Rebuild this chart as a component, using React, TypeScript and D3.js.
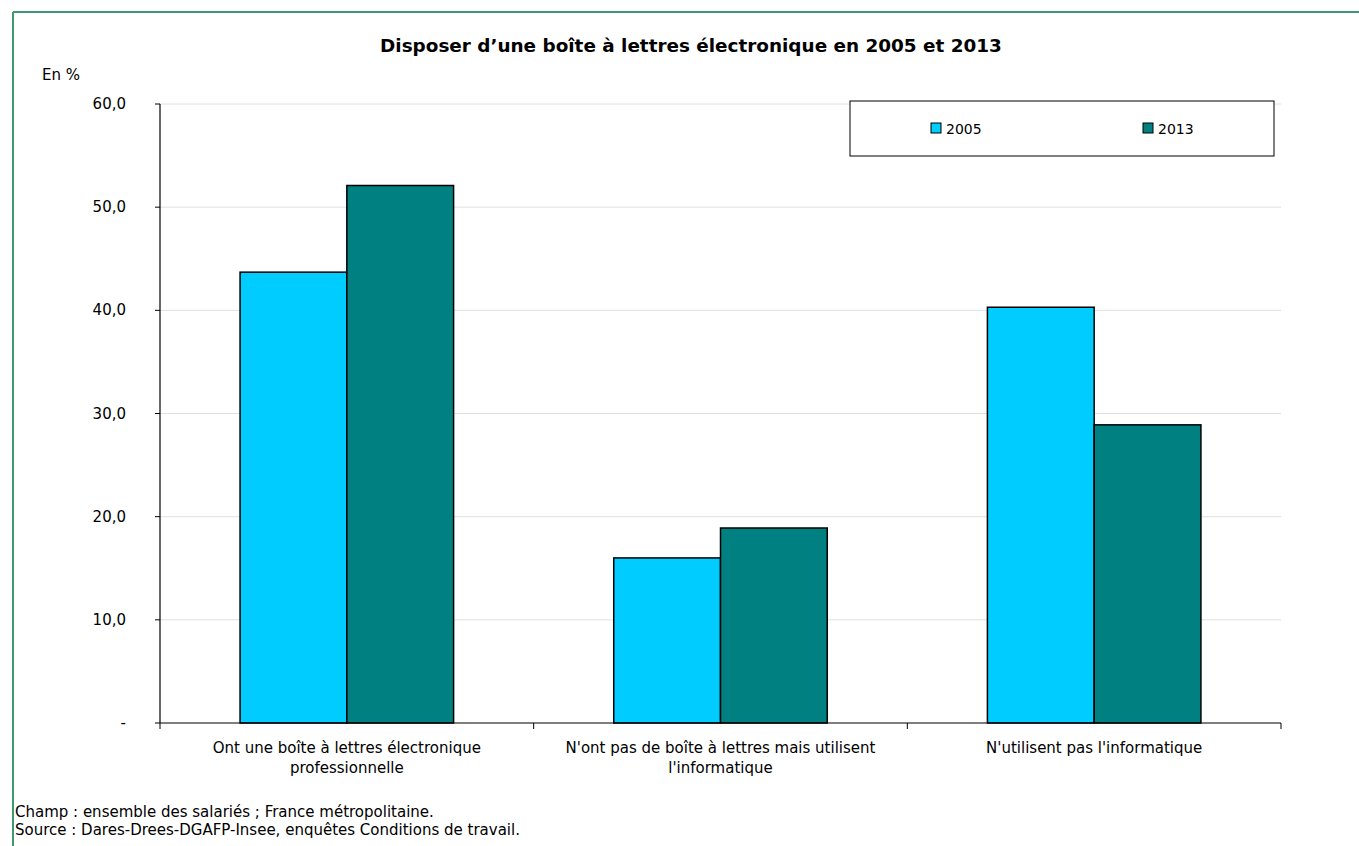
import React from "react";
import * as d3 from "d3";

const categories: string[][] = [
  ["Ont une boîte à lettres électronique", "professionnelle"],
  ["N'ont pas de boîte à lettres mais utilisent", "l'informatique"],
  ["N'utilisent pas l'informatique"],
];
const seriesNames = ["2005", "2013"];
const values2005 = [43.7, 16.0, 40.3];
const values2013 = [52.1, 18.9, 28.9];
const yTicks = [0, 10, 20, 30, 40, 50, 60];
const colors = ["#00CCFF", "#008080"];

const FONT = "Verdana, 'DejaVu Sans', sans-serif";

export default function App() {
  const W = 1359, H = 846;
  const left = 160, right = 1281, top = 104, bottom = 723;
  const x = d3.scaleBand<number>().domain([0, 1, 2]).range([left, right]).paddingInner(0).paddingOuter(0);
  const y = d3.scaleLinear().domain([0, 60]).range([bottom, top]);
  const bw = x.bandwidth();
  const gap = 1.5;
  const barW = bw / (2 + gap);
  const series = [values2005, values2013];
  const fmt = (v: number) => (v === 0 ? "-" : d3.format(".1f")(v).replace(".", ","));

  return (
    <svg width={W} height={H} style={{ position: "absolute", left: 0, top: 0, background: "#fff" }}>
      <rect x={0} y={0} width={W} height={H} fill="#fff" />
      <line x1={13} x2={W} y1={12} y2={12} stroke="#3c9a6c" strokeWidth={2} />
      <line x1={13} x2={13} y1={12} y2={H} stroke="#3c9a6c" strokeWidth={2} />
      <text x={691} y={52} textAnchor="middle" fontFamily={FONT} fontWeight="bold" fontSize={18.4} fill="#000">
        Disposer d’une boîte à lettres électronique en 2005 et 2013
      </text>
      <text x={42} y={80} fontFamily={FONT} fontSize={15} fill="#000">En %</text>
      {yTicks.map((t) => (
        <g key={t}>
          {t > 0 && <line x1={left} x2={right} y1={y(t)} y2={y(t)} stroke="#e0e0e0" strokeWidth={1} />}
          <line x1={left - 5} x2={left} y1={y(t)} y2={y(t)} stroke="#000" />
          <text x={126} y={y(t) + 5} textAnchor="end" fontFamily={FONT} fontSize={15} fill="#000">{fmt(t)}</text>
        </g>
      ))}
      {series.map((vals, si) =>
        vals.map((v, ci) => (
          <rect key={`${si}-${ci}`}
            x={(x(ci) as number) + barW * gap / 2 + si * barW}
            y={y(v)} width={barW} height={y(0) - y(v)}
            fill={colors[si]} stroke="#000" strokeWidth={1.5} />
        ))
      )}
      <line x1={left} x2={left} y1={top} y2={bottom} stroke="#000" strokeWidth={1.2} />
      <line x1={left} x2={right} y1={bottom} y2={bottom} stroke="#000" strokeWidth={1.2} />
      {[0, 1, 2, 3].map((i) => {
        const xx = i < 3 ? (x(i) as number) : right;
        return <line key={i} x1={xx} x2={xx} y1={bottom} y2={bottom + 6} stroke="#000" />;
      })}
      {categories.map((lines, ci) => (
        <text key={ci} x={(x(ci) as number) + bw / 2} y={753} textAnchor="middle" fontFamily={FONT} fontSize={15} fill="#000">
          {lines.map((l, li) => (
            <tspan key={li} x={(x(ci) as number) + bw / 2} dy={li === 0 ? 0 : 20}>{l}</tspan>
          ))}
        </text>
      ))}
      <rect x={850} y={101} width={424} height={55} fill="#fff" stroke="#000" strokeWidth={1} />
      {seriesNames.map((s, i) => {
        const lx = i === 0 ? 931 : 1143;
        return (
          <g key={s}>
            <rect x={lx} y={123} width={10} height={10} fill={colors[i]} stroke="#000" strokeWidth={1} />
            <text x={lx + 15} y={133.5} fontFamily={FONT} fontSize={14} fill="#000">{s}</text>
          </g>
        );
      })}
      <text x={15} y={817} fontFamily={FONT} fontSize={15} fill="#000">Champ : ensemble des salariés ; France métropolitaine.</text>
      <text x={15} y={835} fontFamily={FONT} fontSize={15} fill="#000">Source : Dares-Drees-DGAFP-Insee, enquêtes Conditions de travail.</text>
    </svg>
  );
}
